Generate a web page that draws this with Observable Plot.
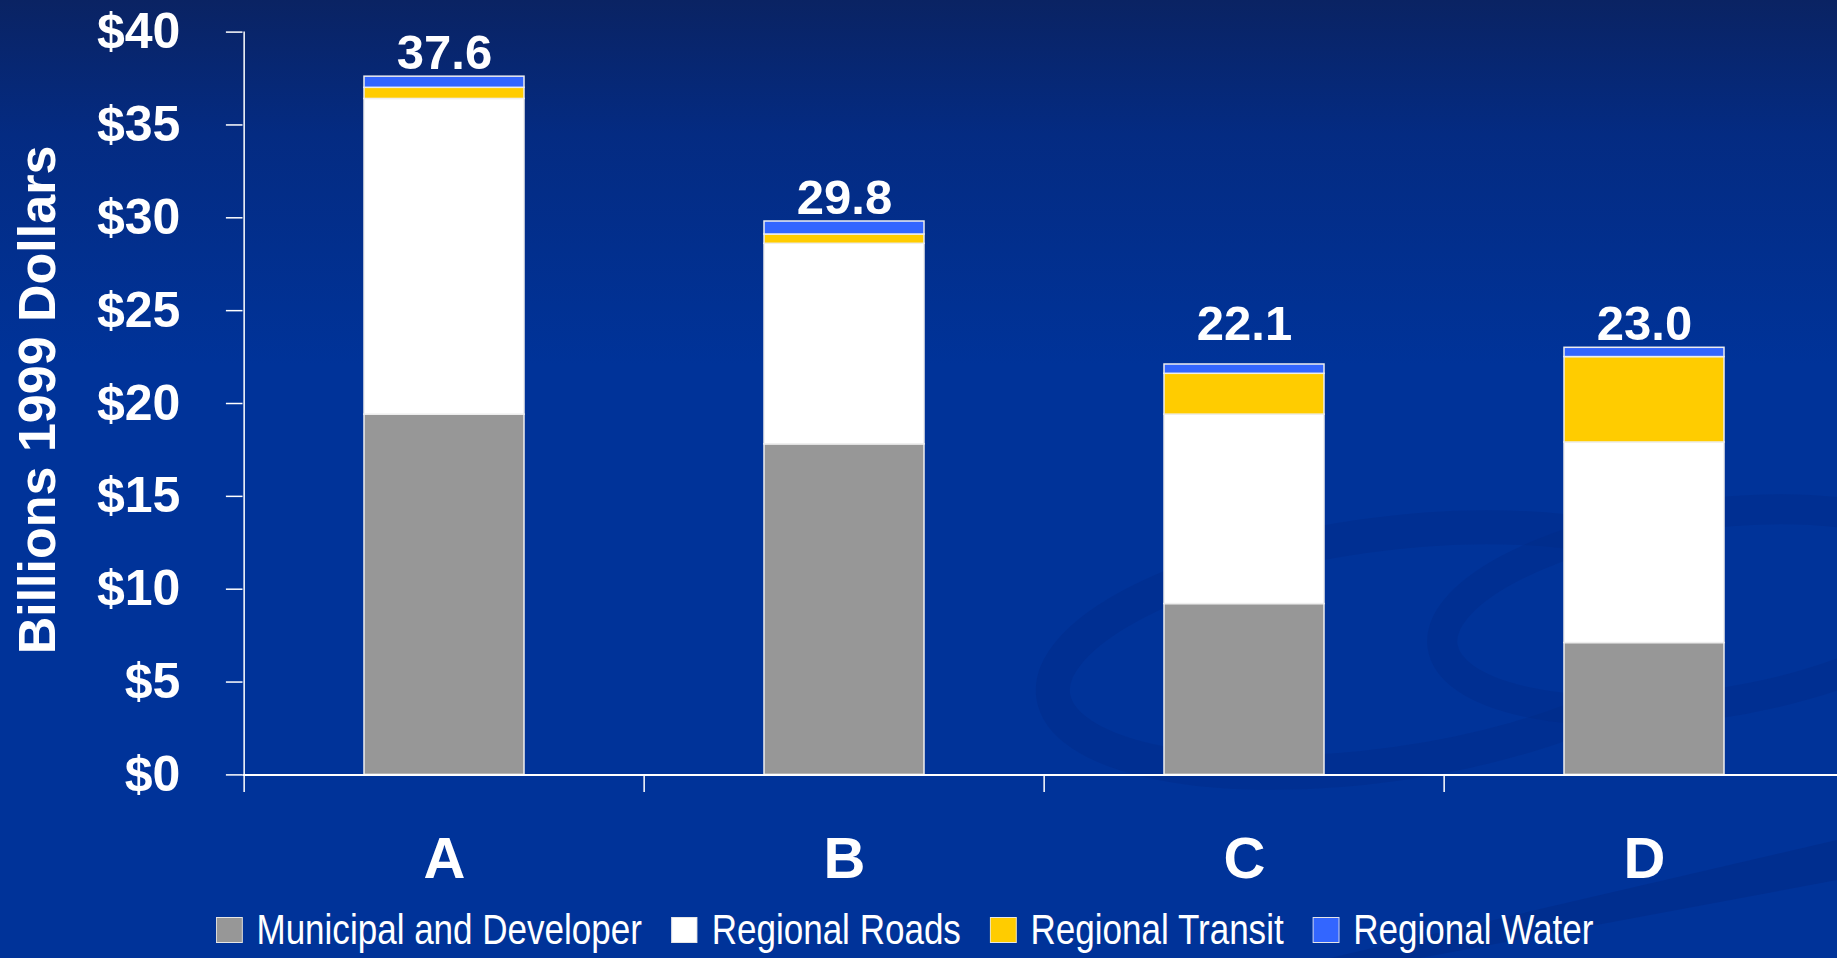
<!DOCTYPE html>
<html>
<head>
<meta charset="utf-8">
<script src="https://cdn.jsdelivr.net/npm/d3@7"></script>
<script src="https://cdn.jsdelivr.net/npm/@observablehq/plot@0.6"></script>
<style>
  html, body { margin: 0; padding: 0; overflow: hidden; }
  #wrap {
    position: relative; width: 1837px; height: 958px; overflow: hidden;
    background: linear-gradient(to bottom, #0a2363 0%, #042b82 14%, #003399 38%, #003399 100%);
  }
  #deco { position: absolute; left: 0; top: 0; }
  #chart { position: absolute; left: 0; top: 0; }
  #legend {
    position: absolute; left: 216px; top: 909px; height: 42px;
    display: flex; align-items: center; color: #fff;
    font-family: "Liberation Sans", Arial, sans-serif;
    font-size: 42px; line-height: 42px; white-space: nowrap;
    transform: scaleX(0.834); transform-origin: 0 50%;
  }
  #legend .item { display: flex; align-items: center; margin-right: 35px; }
  #legend .sw { width: 29.5px; height: 24px; border: 1.5px solid #e6e6e6; margin-right: 17px; }
</style>
</head>
<body>
<div id="wrap">
  <svg id="deco" width="1837" height="958">
    <g fill="none" stroke="#002a86" stroke-opacity="0.4">
      <ellipse cx="1380" cy="650" rx="330" ry="115" stroke-width="34" transform="rotate(-8 1380 650)"/>
      <ellipse cx="1700" cy="610" rx="260" ry="95" stroke-width="30" transform="rotate(-8 1700 610)"/>
    </g>
    <path d="M1330 958 L1837 840 L1837 880 L1420 958 Z" fill="#002a86" fill-opacity="0.5"/>
  </svg>
  <div id="chart"></div>
  <div id="legend"></div>
</div>
<script>
// ---- data ----
const categories = ["A", "B", "C", "D"];
const series = ["Municipal and Developer", "Regional Roads", "Regional Transit", "Regional Water"];
const municipal = [19.4, 17.8, 9.2, 7.1];
const roads     = [17.0, 10.8, 10.2, 10.8];
const transit   = [0.6, 0.5, 2.2, 4.6];
const water     = [0.6, 0.7, 0.5, 0.5];
const totalLabels = ["37.6", "29.8", "22.1", "23.0"];
const yTicks = [0, 5, 10, 15, 20, 25, 30, 35, 40];
const yTitle = "Billions 1999 Dollars";
const colors = ["#979797", "#ffffff", "#ffcc00", "#3366ff"];

// ---- tables built from the arrays ----
const seriesValues = [municipal, roads, transit, water];
const rows = [];
categories.forEach((c, i) => {
  series.forEach((s, j) => rows.push({cat: c, series: s, value: seriesValues[j][i]}));
});
const totals = categories.map((c, i) => ({
  cat: c,
  total: seriesValues.reduce((a, v) => a + v[i], 0),
  label: totalLabels[i]
}));

// ---- layout ----
const W = 1837, H = 900;
const mL = 242.5, mR = -8.3, mT = 31.6, mB = H - 774.4;
const step = (W - mL - mR) / categories.length;
const font = "'Liberation Sans', Arial, Helvetica, sans-serif";

const chart = Plot.plot({
  width: W, height: H,
  marginLeft: mL, marginRight: mR, marginTop: mT, marginBottom: mB,
  style: {background: "transparent", color: "#ffffff", fontFamily: font, fontWeight: "bold", overflow: "visible"},
  x: {domain: categories, paddingInner: 0.6, paddingOuter: 0.3, axis: null},
  y: {domain: [0, 40], axis: null},
  color: {domain: series, range: colors},
  marks: [
    Plot.barY(rows, {x: "cat", y: "value", fill: "series", order: series, stroke: "#eeeeee", strokeWidth: 1.5}),
    Plot.ruleY([0], {stroke: "#ffffff", strokeWidth: 2}),
    Plot.ruleX([categories[0]], {x: d => d, dx: -step / 2, y1: 40, y2: 0, stroke: "#ffffff", strokeWidth: 1.5}),
    Plot.ruleX(categories, {x: d => d, dx: -step / 2, y1: 0, y2: 0, insetBottom: -17.6, stroke: "#ffffff", strokeWidth: 1.5}),
    Plot.axisY({ticks: yTicks, tickFormat: d => "$" + d, tickSize: 16.6, tickPadding: 46,
      fontSize: 50, fontWeight: "bold", stroke: "#ffffff", strokeWidth: 1.5, fill: "#ffffff", label: null}),
    Plot.axisX({tickSize: 0, tickPadding: 62, fontSize: 58, fontWeight: "bold", fill: "#ffffff", label: null}),
    Plot.text(totals, {filter: d => d.cat !== "C", x: "cat", y: "total", text: "label", lineAnchor: "bottom", dy: -8,
      fontSize: 49, fontWeight: "bold", fill: "#ffffff"}),
    Plot.text(totals, {filter: d => d.cat === "C", x: "cat", y: "total", text: "label", lineAnchor: "bottom", dy: -25,
      fontSize: 49, fontWeight: "bold", fill: "#ffffff"}),
    Plot.text([yTitle], {frameAnchor: "left", textAnchor: "middle", dx: -205, dy: -3.5, rotate: -90,
      fontSize: 52, fontWeight: "bold", fill: "#ffffff"})
  ]
});
document.getElementById("chart").appendChild(chart);

// ---- legend ----
const legend = document.getElementById("legend");
series.forEach((s, j) => {
  const item = document.createElement("div");
  item.className = "item";
  const sw = document.createElement("span");
  sw.className = "sw";
  sw.style.background = colors[j];
  const t = document.createElement("span");
  t.textContent = s;
  item.appendChild(sw);
  item.appendChild(t);
  legend.appendChild(item);
});
</script>
</body>
</html>
